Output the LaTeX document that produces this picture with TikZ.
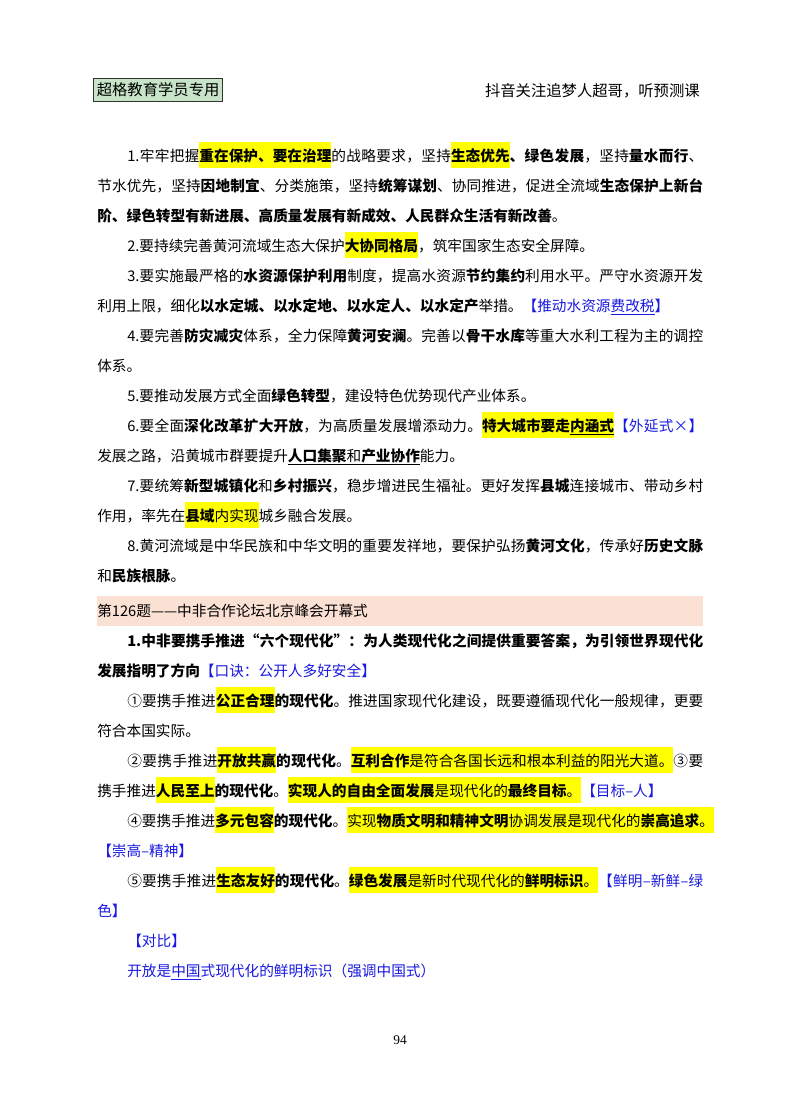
\documentclass[tikz,border=0pt]{standalone}
\usepackage{fontspec}
\setmainfont{Liberation Serif}
\newfontfamily\cjk{Noto Sans CJK SC}
\newdimen\pxu \pxu=0.75pt
\newcount\cc
\XeTeXinterchartokenstate=1
\def\setcls#1#2{\cc=#1 \loop \XeTeXcharclass\cc=1 \advance\cc 1 \ifnum\cc<#2 \repeat}
\setcls{"3000}{"3040}
\setcls{"4E00}{"A000}
\setcls{"FF00}{"FF60}
\setcls{"2460}{"2474}
\setcls{"2014}{"2015}
\setcls{"201C}{"201E}
\setcls{"00D7}{"00D8}
\XeTeXinterchartoks 1 1 {\hskip 0pt plus 1fil\relax}
\XeTeXinterchartoks 0 1 {\hskip 0pt plus 1fil\relax}
\XeTeXinterchartoks 1 0 {\hskip 0pt plus 1fil\relax}
\definecolor{hly}{RGB}{255,255,0}
\definecolor{bl}{RGB}{25,25,225}
\definecolor{tagg}{RGB}{200,228,200}
\definecolor{bar}{RGB}{251,224,212}
\newcommand\hlt[1]{{\setlength\fboxsep{0pt}\colorbox{hly}{\rule[-7\pxu]{0pt}{26\pxu}#1}}}
\newcommand\bb[1]{\textbf{#1}}
\newcommand\bu[1]{\textcolor{bl}{#1}}
\newcommand\J[2]{\hbox to #1\pxu{#2}}
\begin{document}
\begin{tikzpicture}[x=0.75pt,y=-0.75pt,
  ln/.style={anchor=base west,inner sep=0pt,font=\cjk\fontsize{11}{13}\selectfont},
  hd/.style={inner sep=0pt,font=\cjk\fontsize{11.5}{13}\selectfont}]
\useasboundingbox (0,0) rectangle (800,1114);
\fill[white] (0,0) rectangle (800,1114);
\node[hd,draw=black!80,line width=0.9pt,fill=tagg,minimum width=129\pxu,minimum height=23\pxu,anchor=north west] (tag) at (93,78) {超格教育学员专用};
\node[hd,anchor=base east] (top) at (700,96) {抖音关注追梦人超哥，听预测课};
\node[ln] (l1) at (127,161) {\J{576}{1.牢牢把握\hlt{\bb{重在保护、要在治理}}的战略要求，坚持\hlt{\bb{生态优先}}\bb{、绿色发展}，坚持\bb{量水而行}、}};
\node[ln] (l2) at (97,191) {\J{606}{节水优先，坚持\bb{因地制宜}、分类施策，坚持\bb{统筹谋划}、协同推进，促进全流域\bb{生态保护上新台}}};
\node[ln] (l3) at (97,221) {\bb{阶、绿色转型有新进展、高质量发展有新成效、人民群众生活有新改善}。};
\node[ln] (l4) at (127,251) {2.要持续完善黄河流域生态大保护\hlt{\bb{大协同格局}}，筑牢国家生态安全屏障。};
\node[ln] (l5) at (127,281) {\J{576}{3.要实施最严格的\bb{水资源保护利用}制度，提高水资源\bb{节约集约}利用水平。严守水资源开发}};
\node[ln] (l6) at (97,311) {利用上限，细化\bb{以水定城、以水定地、以水定人、以水定产}举措。\bu{【推动水资源\underline{费改税}】}};
\node[ln] (l7) at (127,341) {\J{576}{4.要完善\bb{防灾减灾}体系，全力保障\bb{黄河安澜}。完善以\bb{骨干水库}等重大水利工程为主的调控}};
\node[ln] (l8) at (97,371) {体系。};
\node[ln] (l9) at (127,401) {5.要推动发展方式全面\bb{绿色转型}，建设特色优势现代产业体系。};
\node[ln] (l10) at (127,431) {\J{576}{6.要全面\bb{深化改革扩大开放}，为高质量发展增添动力。\hlt{\bb{特大城市要走\underline{内涵式}}}\bu{【外延式×】}}};
\node[ln] (l11) at (97,461) {发展之路，沿黄城市群要提升\underline{\bb{人口集聚}和\bb{产业协作}}能力。};
\node[ln] (l12) at (127,491) {\J{576}{7.要统筹\bb{新型城镇化}和\bb{乡村振兴}，稳步增进民生福祉。更好发挥\bb{县城}连接城市、带动乡村}};
\node[ln] (l13) at (97,521) {作用，率先在\hlt{\bb{县域}内实现}城乡融合发展。};
\node[ln] (l14) at (127,551) {\J{576}{8.黄河流域是中华民族和中华文明的重要发祥地，要保护弘扬\bb{黄河文化}，传承好\bb{历史文脉}}};
\node[ln] (l15) at (97,581) {和\bb{民族根脉}。};
\fill[bar] (97,596) rectangle (703,626);
\node[ln] (l16) at (97,616) {第126题——中非合作论坛北京峰会开幕式};
\node[ln] (l17) at (127,646) {\J{576}{\bb{1.中非要携手推进“六个现代化”：为人类现代化之间提供重要答案，为引领世界现代化}}};
\node[ln] (l18) at (97,676) {\bb{发展指明了方向}\bu{【口诀：公开人多好安全】}};
\node[ln] (l19) at (127,706) {\J{576}{①要携手推进\hlt{\bb{公正合理}}\bb{的现代化}。推进国家现代化建设，既要遵循现代化一般规律，更要}};
\node[ln] (l20) at (97,736) {符合本国实际。};
\node[ln] (l21) at (127,766) {\J{576}{②要携手推进\hlt{\bb{开放共赢}}\bb{的现代化}。\hlt{\bb{互利合作}是符合各国长远和根本利益的阳光大道。}③要}};
\node[ln] (l22) at (97,796) {携手推进\hlt{\bb{人民至上}}\bb{的现代化}。\hlt{\bb{实现人的自由全面发展}是现代化的\bb{最终目标}。}\bu{【目标–人】}};
\node[ln] (l23) at (127,826) {\J{576}{④要携手推进\hlt{\bb{多元包容}}\bb{的现代化}。\hlt{实现\bb{物质文明和精神文明}协调发展是现代化的\bb{崇高追求}。}}};
\node[ln] (l24) at (97,856) {\bu{【崇高–精神】}};
\node[ln] (l25) at (127,886) {\J{576}{⑤要携手推进\hlt{\bb{生态友好}}\bb{的现代化}。\hlt{\bb{绿色发展}是新时代现代化的\bb{鲜明标识}。}\bu{【鲜明–新鲜–绿}}};
\node[ln] (l26) at (97,916) {\bu{色】}};
\node[ln] (l27) at (127,946) {\bu{【对比】}};
\node[ln] (l28) at (127,976) {\bu{开放是\underline{中国}式现代化的鲜明标识（强调中国式）}};
\node[font=\fontsize{10}{12}\selectfont,anchor=base] (pg) at (400,1044) {94};
\end{tikzpicture}
\end{document}
